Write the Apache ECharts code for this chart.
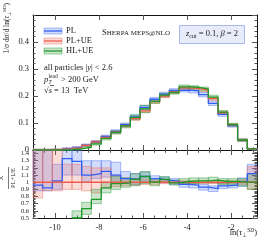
<!DOCTYPE html>
<html><head><meta charset="utf-8">
<script src="https://cdn.jsdelivr.net/npm/echarts@6/dist/echarts.min.js"></script>
<style>html,body{margin:0;padding:0;background:#fff}#c{width:266px;height:240px}</style>
</head><body><div id="c"></div>
<script>
// ---- data ----
const binEdges = [-11.00,-10.56,-10.12,-9.67,-9.23,-8.79,-8.35,-7.90,-7.46,-7.02,-6.58,-6.14,-5.69,-5.25,-4.81,-4.37,-3.92,-3.48,-3.04,-2.60,-2.16,-1.71,-1.27,-0.83];
const xTickValues = [-10,-8,-6,-4,-2];
// top panel: 1/sigma dsigma/dln(tau)
const plVals   = [0.001,0.001,0.002,0.005,0.010,0.018,0.031,0.050,0.069,0.094,0.123,0.158,0.188,0.207,0.221,0.222,0.219,0.205,0.173,0.132,0.090,0.036,0.004];
const plErr    = [0.002,0.002,0.002,0.003,0.003,0.004,0.004,0.005,0.006,0.006,0.007,0.007,0.007,0.007,0.006,0.007,0.008,0.008,0.008,0.007,0.005,0.004,0.002];
const plueVals = [0.001,0.001,0.002,0.004,0.008,0.017,0.030,0.047,0.066,0.090,0.116,0.145,0.179,0.200,0.215,0.230,0.228,0.222,0.190,0.138,0.093,0.037,0.004];
const plueErr  = [0.002,0.002,0.002,0.003,0.003,0.004,0.004,0.005,0.005,0.005,0.006,0.006,0.006,0.006,0.006,0.006,0.006,0.006,0.006,0.006,0.005,0.004,0.002];
const hlueVals = [0.000,0.000,0.000,0.001,0.004,0.011,0.023,0.043,0.065,0.089,0.121,0.152,0.180,0.203,0.213,0.234,0.232,0.226,0.196,0.140,0.094,0.037,0.004];
const hlueErr  = [0.001,0.001,0.001,0.002,0.003,0.004,0.005,0.006,0.006,0.007,0.009,0.014,0.007,0.007,0.006,0.007,0.006,0.007,0.007,0.006,0.005,0.004,0.002];
// bottom panel: ratio to PL+UE
const plRatio   = [0.96,0.92,1.02,1.33,1.29,1.10,1.12,1.15,1.10,1.05,1.04,1.08,1.05,1.03,1.01,0.97,0.96,0.93,0.91,0.95,0.96,1.00,1.12];
const plRatioLo = [0.88,0.88,0.90,1.10,1.10,1.00,1.05,1.07,1.00,0.98,0.97,1.01,1.01,0.99,0.97,0.93,0.92,0.89,0.87,0.91,0.92,0.94,1.00];
const plRatioHi = [1.50,1.50,1.25,1.50,1.50,1.30,1.30,1.30,1.28,1.15,1.12,1.14,1.09,1.07,1.05,1.01,1.00,0.97,0.95,0.99,1.00,1.06,1.25];
const plueRatio   = [1,1,1,1,1,1,1,1,1,1,1,1,1,1,1,1,1,1,1,1,1,1,1];
const plueRatioLo = [0.78,0.88,0.88,0.90,0.90,0.88,0.85,0.92,0.94,0.95,0.96,0.97,0.97,0.98,0.98,0.98,0.98,0.98,0.98,0.98,0.98,0.97,0.90];
const plueRatioHi = [1.50,1.50,1.50,1.25,1.25,1.22,1.20,1.20,1.10,1.06,1.05,1.04,1.03,1.02,1.02,1.02,1.02,1.02,1.02,1.02,1.02,1.03,1.22];
const hlueRatio   = [null,null,null,null,0.50,0.63,0.76,0.92,0.98,0.99,1.04,1.08,1.00,1.04,0.99,1.01,1.02,1.02,1.03,1.01,1.01,1.00,1.00];
const hlueRatioLo = [null,null,null,null,0.45,0.55,0.70,0.85,0.90,0.93,0.95,0.98,0.95,1.00,0.96,0.98,0.98,0.99,0.99,0.97,0.97,0.95,0.90];
const hlueRatioHi = [null,null,null,null,0.60,0.72,0.90,1.00,1.08,1.06,1.12,1.15,1.05,1.08,1.03,1.05,1.06,1.06,1.07,1.05,1.05,1.05,1.12];
const seriesNames = ['PL','PL+UE','HL+UE'];

// ---- styling ----
const FONT = 'Liberation Serif';
const colors = {
  'PL':   {line:'#2f5ff5', fill:'rgba(70,110,240,0.24)', edge:'rgba(70,110,240,0.45)'},
  'PL+UE':{line:'#f05a4a', fill:'rgba(235,110,95,0.24)', edge:'rgba(235,110,95,0.45)'},
  'HL+UE':{line:'#1f9a2a', fill:'rgba(40,150,50,0.24)', edge:'rgba(40,150,50,0.45)'}
};
const X_MIN = binEdges[0], X_MAX = binEdges[binEdges.length-1];
const tickColor = '#555';

function stepData(vals){
  const d = [];
  for (let i=0;i<vals.length;i++){
    if (vals[i]==null){ d.push([binEdges[i], null]); continue; }
    d.push([binEdges[i], vals[i]]); d.push([binEdges[i+1], vals[i]]);
  }
  return d;
}
function lineSeries(vals, name, xi, yi, width){
  return {type:'line', name, xAxisIndex:xi, yAxisIndex:yi, data:stepData(vals), symbol:'none',
    connectNulls:false, clip:true, silent:true, z:5,
    lineStyle:{color:colors[name].line, width:width||1.3}};
}
function bandSeries(lo, hi, name, xi, yi){
  const data = [];
  for (let i=0;i<lo.length;i++) if (lo[i]!=null) data.push([binEdges[i], binEdges[i+1], lo[i], hi[i]]);
  return {type:'custom', name, xAxisIndex:xi, yAxisIndex:yi, data, silent:true, z:2,
    encode:{x:[0,1], y:[2,3]},
    renderItem(params, api){
      const p0 = api.coord([api.value(0), api.value(3)]);
      const p1 = api.coord([api.value(1), api.value(2)]);
      const cs = params.coordSys;
      const r = echarts.graphic.clipRectByRect(
        {x:p0[0], y:p0[1], width:p1[0]-p0[0], height:p1[1]-p0[1]},
        {x:cs.x, y:cs.y, width:cs.width, height:cs.height});
      if (!r) return null;
      return {type:'rect', shape:r, style:{fill:colors[name].fill, stroke:colors[name].edge, lineWidth:1}};
    }};
}
function xAxes(grid, labels){
  const major = (pos, lab) => ({type:'value', gridIndex:grid, min:X_MIN, max:X_MAX, position:pos,
    axisLine:{show:true, onZero:false, lineStyle:{color:'#111', width:1}},
    axisTick:{show:true, inside:true, length:5, customValues:xTickValues, lineStyle:{color:tickColor}},
    axisLabel:{show:lab, customValues:xTickValues, fontFamily:FONT, fontSize:8.5, color:'#222', margin:5},
    splitLine:{show:false}});
  const minor = (pos) => ({type:'value', gridIndex:grid, min:X_MIN, max:X_MAX, interval:0.5, position:pos,
    axisLine:{show:false}, axisTick:{show:true, inside:true, length:2.5, lineStyle:{color:tickColor}},
    axisLabel:{show:false}, splitLine:{show:false}});
  return [major('bottom', labels), major('top', false), minor('bottom'), minor('top')];
}
function yAxes(grid, min, max, interval, minorInt, fmt, fs){
  const major = (pos, lab) => ({type:'value', gridIndex:grid, min, max, interval, position:pos,
    axisLine:{show:true, onZero:false, lineStyle:{color:'#111', width:1}},
    axisTick:{show:true, inside:true, length:5, lineStyle:{color:tickColor}},
    axisLabel:{show:lab, showMaxLabel:false, hideOverlap:false, fontFamily:FONT, fontSize:fs, color:'#222', margin:4, formatter:fmt},
    splitLine:{show:false}});
  const minor = (pos) => ({type:'value', gridIndex:grid, min, max, interval:minorInt, position:pos,
    axisLine:{show:false}, axisTick:{show:true, inside:true, length:2.5, lineStyle:{color:tickColor}},
    axisLabel:{show:false}, splitLine:{show:false}});
  return [major('left', true), major('right', false), minor('left'), minor('right')];
}

const topFmt = v => v===0 ? '0' : v.toFixed(1);
const botFmt = v => Math.abs(v-1)<1e-9 ? '1' : v.toFixed(1);

const series = [];
const topVals = [plVals, plueVals, hlueVals], topErr = [plErr, plueErr, hlueErr];
seriesNames.forEach((n,k)=>{
  series.push(bandSeries(topVals[k].map((v,i)=>v-topErr[k][i]), topVals[k].map((v,i)=>v+topErr[k][i]), n, 0, 0));
});
const rat = [plRatio, plueRatio, hlueRatio], ratLo = [plRatioLo, plueRatioLo, hlueRatioLo], ratHi = [plRatioHi, plueRatioHi, hlueRatioHi];
seriesNames.forEach((n,k)=>{ series.push(bandSeries(ratLo[k], ratHi[k], n, 4, 4)); });
seriesNames.forEach((n,k)=>{ series.push(lineSeries(topVals[k], n, 0, 0)); });
seriesNames.forEach((n,k)=>{ series.push(lineSeries(rat[k], n, 4, 4, n==='PL+UE'?1.6:1.3)); });

// legend + annotation graphics
const graphics = [];
const legY = [31, 41, 51];
seriesNames.forEach((n,k)=>{
  const y = legY[k];
  graphics.push({type:'rect', shape:{x:44, y:y-3, width:18, height:6}, style:{fill:colors[n].fill, stroke:colors[n].edge, lineWidth:1}, silent:true});
  graphics.push({type:'line', shape:{x1:44, y1:y, x2:62, y2:y}, style:{stroke:colors[n].line, lineWidth:1.3}, silent:true});
  graphics.push({type:'text', x:66, y:y, style:{text:n, fontFamily:FONT, fontSize:8.5, fill:'#222', verticalAlign:'middle'}, silent:true});
});
const rich = {
  n:{fontFamily:FONT, fontSize:8.5, fill:'#222', lineHeight:11},
  it:{fontFamily:FONT, fontSize:8.5, fontStyle:'italic', fill:'#222', lineHeight:11},
  sub:{fontFamily:FONT, fontSize:6, fill:'#222', lineHeight:6, verticalAlign:'bottom'},
  sup:{fontFamily:FONT, fontSize:6, fill:'#222', lineHeight:6, verticalAlign:'top'},
  sc:{fontFamily:FONT, fontSize:7, fill:'#222', lineHeight:11}
};
graphics.push({type:'text', x:44, y:68, style:{text:'{n|all particles |}{it|y}{n|| < 2.6}', rich, verticalAlign:'middle'}, silent:true});
graphics.push({type:'text', x:44, y:80, style:{text:'{it|p}', rich, verticalAlign:'middle'}, silent:true});
graphics.push({type:'text', x:48.5, y:76.5, style:{text:'lead', fontFamily:FONT, fontSize:5.5, fill:'#222', verticalAlign:'middle'}, silent:true});
graphics.push({type:'text', x:48.5, y:83, style:{text:'T', fontFamily:FONT, fontStyle:'italic', fontSize:5.5, fill:'#222', verticalAlign:'middle'}, silent:true});
graphics.push({type:'text', x:61, y:80, style:{text:'> 200 GeV', fontFamily:FONT, fontSize:8.5, fill:'#222', verticalAlign:'middle'}, silent:true});
graphics.push({type:'text', x:44, y:91, style:{text:'{n|√}{it|s}{n| = 13  TeV}', rich, verticalAlign:'middle'}, silent:true});
graphics.push({type:'line', shape:{x1:50, y1:85.5, x2:54, y2:85.5}, style:{stroke:'#222', lineWidth:0.7}, silent:true});
graphics.push({type:'text', x:136, y:33, style:{text:'{n|S}{sc|HERPA MEPS@NLO}', rich, align:'center', verticalAlign:'middle'}, silent:true});
graphics.push({type:'rect', shape:{x:179.5, y:25.5, width:65, height:18}, style:{fill:'#e8ecfa', stroke:'#a9b8ec', lineWidth:1}, silent:true});
graphics.push({type:'text', x:212, y:34, style:{text:'{it|z}{sub|cut}{n| = 0.1, }{it|β}{n| = 2}', rich, align:'center', verticalAlign:'middle'}, silent:true});
// y-axis title (top)
graphics.push({type:'text', x:7, y:3, rotation:Math.PI/2, style:{
  text:'{n|1/}{it|σ}{n| d}{it|σ}{n|/d ln(}{it|τ}{sub|⊥}{sup|SD}{n|)}',
  rich:{n:{fontFamily:FONT,fontSize:7.5,fill:'#222',lineHeight:10}, it:{fontFamily:FONT,fontSize:7.5,fontStyle:'italic',fill:'#222',lineHeight:10},
        sub:{fontFamily:FONT,fontSize:5,fill:'#222',lineHeight:5,verticalAlign:'bottom'}, sup:{fontFamily:FONT,fontSize:5,fill:'#222',lineHeight:5,verticalAlign:'top'}},
  align:'right', verticalAlign:'middle'}, silent:true});
// y-axis title (ratio)
graphics.push({type:'group', x:8.5, y:178, rotation:Math.PI/2, silent:true, children:[
  {type:'text', x:0, y:-4, style:{text:'X', fontFamily:FONT, fontSize:6.5, fill:'#222', align:'center', verticalAlign:'bottom'}},
  {type:'line', shape:{x1:-11, y1:0, x2:11, y2:0}, style:{stroke:'#222', lineWidth:0.6}},
  {type:'text', x:0, y:1, style:{text:'PL+UE', fontFamily:FONT, fontSize:6.5, fill:'#222', align:'center', verticalAlign:'top'}}
]});
// x-axis title
graphics.push({type:'text', x:257, y:233, style:{
  text:'{n|ln(}{it|τ}{sub|⊥}{sup|SD}{n|)}',
  rich:{n:{fontFamily:FONT,fontSize:8.5,fill:'#222',lineHeight:11}, it:{fontFamily:FONT,fontSize:8.5,fontStyle:'italic',fill:'#222',lineHeight:11},
        sub:{fontFamily:FONT,fontSize:5.5,fill:'#222',lineHeight:5,verticalAlign:'bottom'}, sup:{fontFamily:FONT,fontSize:5.5,fill:'#222',lineHeight:5,verticalAlign:'top'}},
  align:'right', verticalAlign:'middle'}, silent:true});

const chart = echarts.init(document.getElementById('c'), null, {renderer:'canvas'});
chart.setOption({
  animation:false,
  backgroundColor:'#fff',
  grid:[{left:33, top:15, width:224, height:135}, {left:33, top:150, width:224, height:68}],
  xAxis:[...xAxes(0,false), ...xAxes(1,true)],
  yAxis:[...yAxes(0, 0, 0.5, 0.1, 0.02, topFmt, 8.5), ...yAxes(1, 0.5, 1.45, 0.1, 0.02, botFmt, 6.5)],
  series,
  graphic:graphics
});
</script></body></html>
